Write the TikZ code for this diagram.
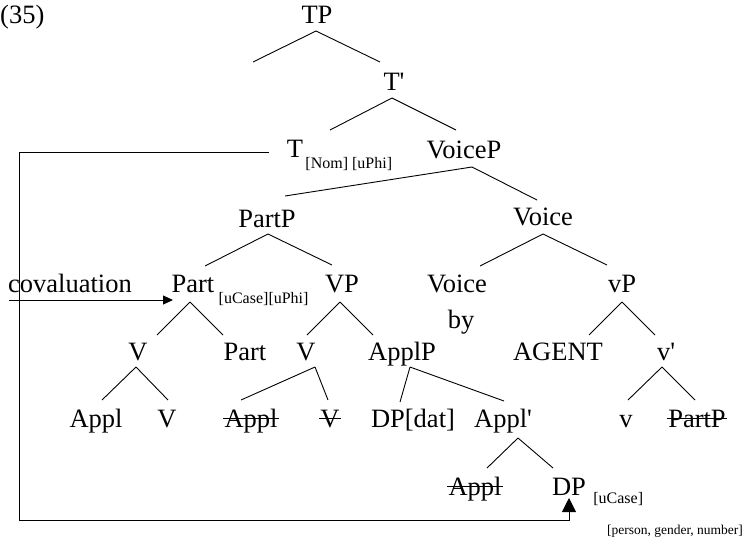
\documentclass[tikz,border=0pt]{standalone}
\usepackage{fontspec}
\setmainfont{Liberation Serif}[Ligatures=TeXOff]
\usetikzlibrary{arrows.meta}
\newcommand\edg[6]{\draw[br] ([shift={(#2,#3)}]#1.base) -- ([shift={(#5,#6)}]#4.base);}
\newcommand\strk[1]{\draw[br] ([yshift=9pt]#1.base west) -- ([yshift=9pt]#1.base east);}
\begin{document}
\begin{tikzpicture}[x=1pt,y=-1pt,
  tn/.style={font=\fontsize{26.5}{30}\selectfont, inner xsep=1pt, inner ysep=0pt, anchor=base},
  sb/.style={font=\fontsize{16}{18}\selectfont, inner sep=0pt, anchor=base west},
  br/.style={line width=0.9pt}]
\useasboundingbox (0,0) rectangle (751,544);
% labels
\node[tn, anchor=base west, inner sep=0pt] (ex) at (0,23) {(35)};
\node[tn] (TP) at (317,23) {TP};
\coordinate (spec) at (253,62);
\node[tn] (Tb) at (394,90) {T'};
\node[tn] (T) at (295,157) {T};
\node[sb] (Tsub) at ([shift={(1,11)}]T.base east) {[Nom] [uPhi]};
\node[tn] (VoiceP) at (464,158) {VoiceP};
\node[tn] (PartP) at (267,227) {PartP};
\node[tn] (VoiceA) at (543,225) {Voice};
\node[tn] (cov) at (70,292) {covaluation};
\node[tn] (Part) at (193,292) {Part};
\node[sb] (Partsub) at ([shift={(3,11)}]Part.base east) {[uCase][uPhi]};
\node[tn] (VP) at (342,292) {VP};
\node[tn] (VoiceB) at (457,292) {Voice};
\node[tn] (by) at (461,328) {by};
\node[tn] (vP) at (622,292) {vP};
\node[tn] (V1) at (138,360) {V};
\node[tn] (PartB) at (245,360) {Part};
\node[tn] (V2) at (306,360) {V};
\node[tn] (ApplP) at (402,360) {ApplP};
\node[tn] (AGENT) at (558,360) {AGENT};
\node[tn] (vb) at (666,360) {v'};
\node[tn] (Appl1) at (96,427) {Appl};
\node[tn] (V3) at (167,427) {V};
\node[tn] (Appl2) at (251,427) {Appl};
\node[tn] (V4) at (330,427) {V};
\node[tn] (DPdat) at (413,427) {DP[dat]};
\node[tn] (Applb) at (503,427) {Appl'};
\node[tn] (vv) at (626,427) {v};
\node[tn] (PartPc) at (697,427) {PartP};
\node[tn] (Appl3) at (475,495) {Appl};
\node[tn] (DP) at (569,495) {DP};
\node[sb] (DPsub) at ([shift={(6,8)}]DP.base east) {[uCase]};
\node[font=\fontsize{13.5}{15}\selectfont, inner sep=0pt, anchor=base] (feat) at (675,534) {[person, gender, number]};
% strikes
\strk{Appl2}
\strk{V4}
\strk{PartPc}
\strk{Appl3}
% branches
\draw[br] ([shift={(-1,8)}]TP.base) -- (spec);
\edg{TP}{-1}{8}{Tb}{-14}{-28}
\edg{Tb}{-2}{8}{T}{35}{-27}
\edg{Tb}{-2}{8}{VoiceP}{-8}{-28}
\edg{VoiceP}{8}{9}{PartP}{18}{-31}
\edg{VoiceP}{8}{9}{VoiceA}{-6}{-25}
\edg{PartP}{1}{7}{Part}{12}{-26}
\edg{PartP}{1}{7}{VP}{-10}{-27}
\edg{VoiceA}{0}{9}{VoiceB}{23}{-26}
\edg{VoiceA}{0}{9}{vP}{-15}{-27}
\edg{Part}{-3}{10}{V1}{19}{-25}
\edg{Part}{-3}{10}{PartB}{-22}{-25}
\edg{VP}{-2}{10}{V2}{1}{-25}
\edg{VP}{-2}{10}{ApplP}{-29}{-25}
\edg{vP}{0}{10}{AGENT}{31}{-25}
\edg{vP}{0}{10}{vb}{-11}{-25}
\edg{V1}{-2}{7}{Appl1}{6}{-27}
\edg{V1}{-2}{7}{V3}{1}{-27}
\edg{V2}{9}{7}{Appl2}{-10}{-27}
\edg{V2}{9}{7}{V4}{-2}{-27}
\edg{ApplP}{8}{7}{DPdat}{-13}{-25}
\edg{ApplP}{8}{7}{Applb}{1}{-26}
\edg{vb}{-4}{7}{vv}{2}{-27}
\edg{vb}{-4}{7}{PartPc}{-2}{-27}
\edg{Applb}{15}{11}{Appl3}{12}{-27}
\edg{Applb}{15}{11}{DP}{-16}{-27}
% arrows
\coordinate (covstart) at (9,300);
\draw[br, -{Triangle[length=10pt,width=9pt]}] (covstart) -- ([shift={(-20,8)}]Part.base);
\coordinate (corner) at (19,520);
\draw[br, -{Triangle[length=14pt,width=14pt]}] ([shift={(-26,-5)}]T.base) -| (corner) -| ([shift={(0,3)}]DP.base);
\end{tikzpicture}
\end{document}
